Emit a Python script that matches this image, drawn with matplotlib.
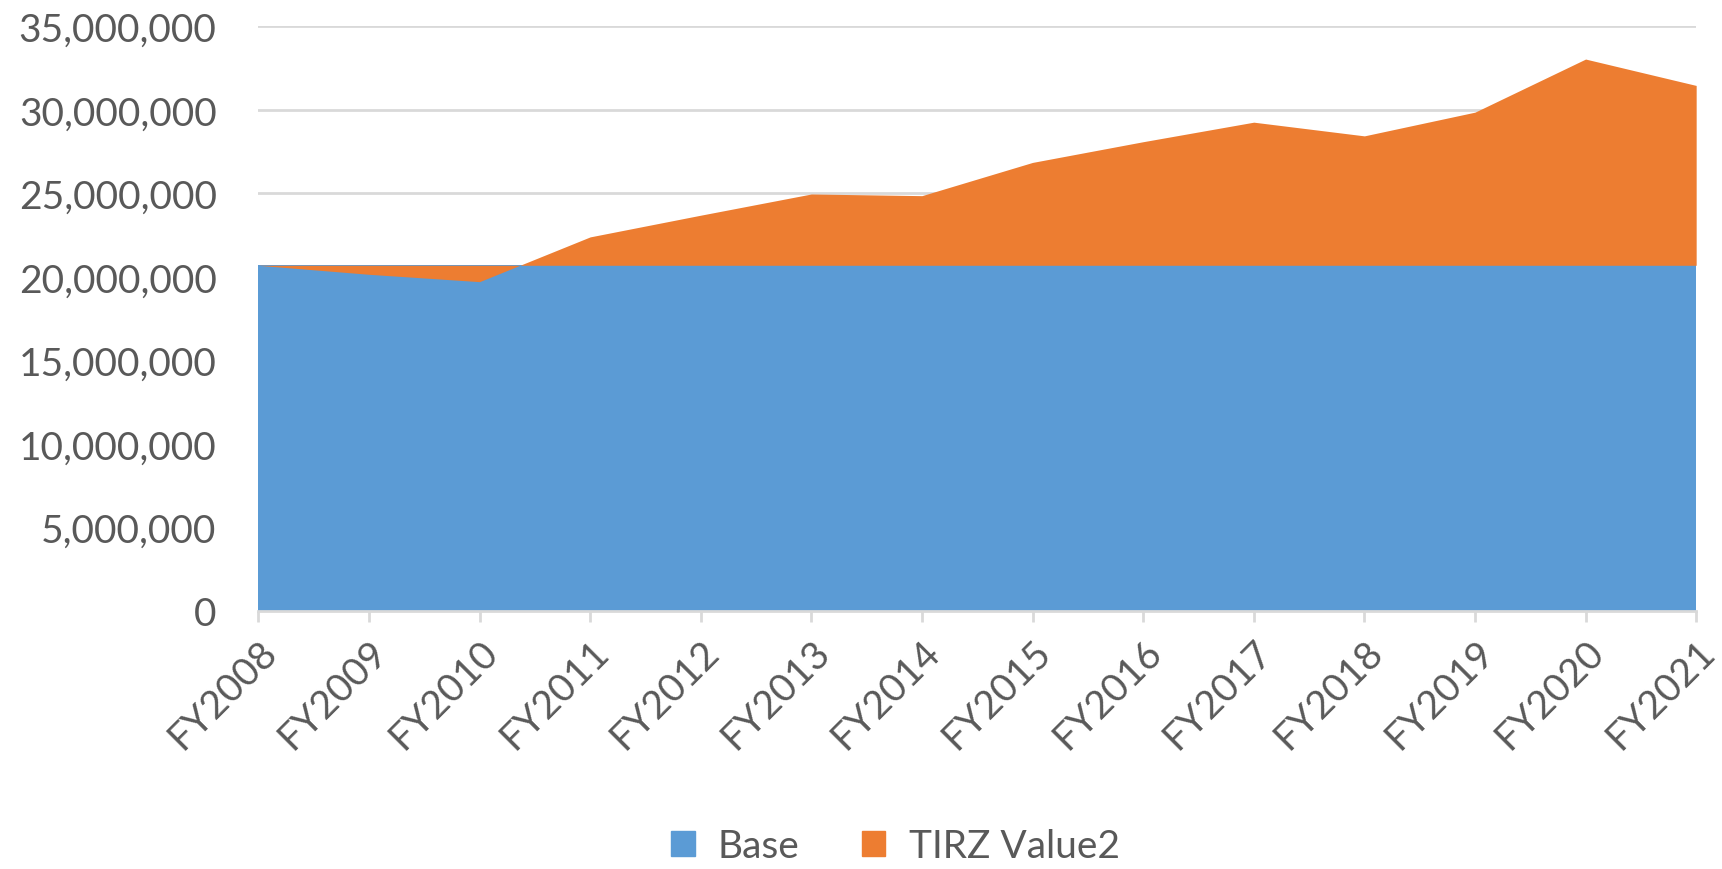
import numpy as np
import matplotlib
matplotlib.use("Agg")
import matplotlib.pyplot as plt
from matplotlib.ticker import FuncFormatter
from matplotlib.patches import Patch

years = ["FY2008", "FY2009", "FY2010", "FY2011", "FY2012", "FY2013", "FY2014",
         "FY2015", "FY2016", "FY2017", "FY2018", "FY2019", "FY2020", "FY2021"]
# stacked series: constant base plus the increment above (or below) it
base = [20.7e6] * 14
tirz_incr = [0.0, -0.54e6, -0.98e6, 1.7e6, 3.0e6, 4.27e6, 4.17e6,
             6.16e6, 7.4e6, 8.57e6, 7.75e6, 9.17e6, 12.35e6, 10.77e6]

blue = "#5B9BD5"
orange = "#ED7D31"
txt = "#595959"

plt.rcParams['font.family'] = ['Lato', 'DejaVu Sans']

fig = plt.figure(figsize=(17.22, 8.70), dpi=100)
ax = fig.add_axes([0.150, 0.2966, 0.835, 0.6718])

x = np.arange(len(years))
b = np.array(base)
top = b + np.array(tirz_incr)
ax.fill_between(x, 0, b, color=blue, lw=0, zorder=2)
ax.fill_between(x, b, top, color=orange, lw=0, zorder=3)

ax.set_xlim(0, len(years) - 1)
ax.set_ylim(0, 35e6)
ax.set_yticks(np.arange(0, 35e6 + 1, 5e6))
ax.yaxis.set_major_formatter(FuncFormatter(lambda v, p: f"{int(v):,}"))
ax.grid(axis="y", color="#D9D9D9", lw=2, zorder=1)
ax.set_axisbelow(True)

for s in ["top", "right", "left"]:
    ax.spines[s].set_visible(False)
ax.spines["bottom"].set_color("#D9D9D9")
ax.spines["bottom"].set_linewidth(2)

ax.set_xticks(x)
ax.set_xticklabels(years, rotation=45, ha="right", rotation_mode="anchor")
ax.tick_params(axis="x", colors="#D9D9D9", length=8, width=2, labelcolor=txt,
               labelsize=28, pad=8)
ax.tick_params(axis="y", length=0, labelcolor=txt, labelsize=28, pad=30)

handles = [Patch(color=blue, label="Base"), Patch(color=orange, label="TIRZ Value2")]
fig.legend(handles=handles, loc="center", bbox_to_anchor=(0.52, 0.026),
           ncol=2, frameon=False, fontsize=28, labelcolor=txt,
           handlelength=0.6, handleheight=0.6, columnspacing=1.6, handletextpad=0.6)

fig.savefig("out.png", dpi=100)
